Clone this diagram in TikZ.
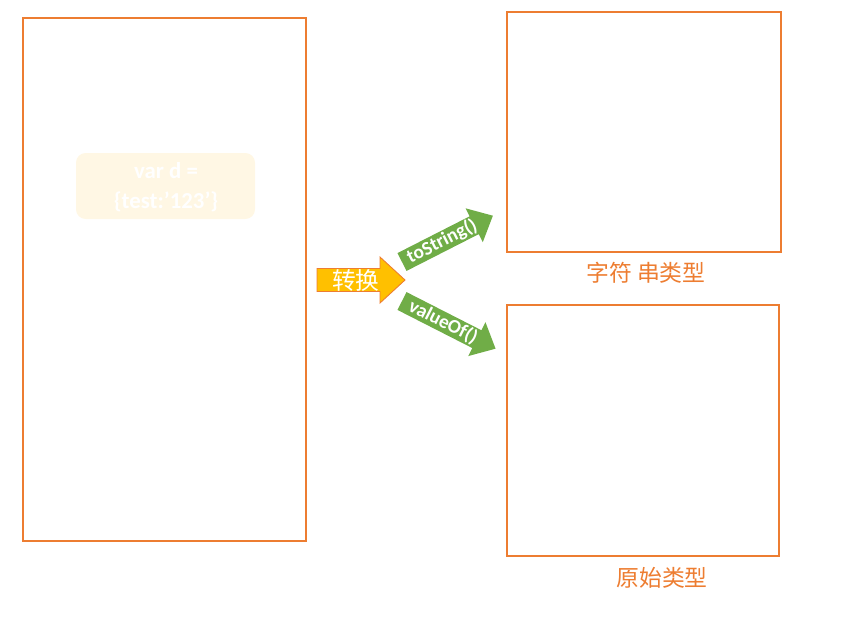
\documentclass[tikz,border=0pt]{standalone}
\usepackage{fontspec}
\setmainfont{Carlito}
\newfontfamily\cjk{Noto Sans CJK SC}
\definecolor{lineorange}{HTML}{ED7D31}
\definecolor{cream}{HTML}{FFF7E4}
\definecolor{gold}{HTML}{FFC000}
\definecolor{leafgreen}{HTML}{70AD47}
\tikzset{
  panel/.style={draw=lineorange,line width=0.6pt},            % outline boxes
  codebox/.style={fill=cream,rounded corners=5.5pt},
  typelabel/.style={text=lineorange,font=\cjk\fontsize{13}{15}\selectfont},
  convarr/.style={fill=gold,draw=lineorange,line width=0.5pt},
  methodarr/.style={fill=leafgreen},
  arrtext/.style={text=white,inner sep=0pt},
  methodtext/.style={arrtext,font=\bfseries\fontsize{11}{12}\selectfont},
  convtext/.style={arrtext,font=\cjk\fontsize{13.5}{15}\selectfont},
}
\newcommand{\blockarr}[9]{% start, angle, length, shaft half, head half, head length, kind, name, text
  \begin{scope}[shift={#1},rotate=#2]
    \path[#7arr] (0,-#4) -- ({#3-#6},-#4) -- ({#3-#6},-#5) -- (#3,0)
      -- ({#3-#6},#5) -- ({#3-#6},#4) -- (0,#4) -- cycle;
    \node[#7text,rotate=#2] (#8) at ({0.44*#3},0) {#9};
  \end{scope}
}

\begin{document}
\begin{tikzpicture}[x=0.02cm,y=-0.02cm]
  \useasboundingbox (0,0) rectangle (859,630);
  % left: the object
  \draw[panel] (23,18) rectangle (306,541);
  \fill[codebox] (76,153) rectangle (255,219);
  \node[arrtext,align=center,font=\bfseries\fontsize{13}{17}\selectfont] (obj) at (166,187)
    {var d =\\\{test:'123'\}};
  % right: the two results
  \draw[panel] (507,12) rectangle (781,252);
  \node[typelabel] (strlabel) at (646,273) {字符 串类型};
  \draw[panel] (507,305) rectangle (779,556);
  \node[typelabel] (primlabel) at (662,578) {原始类型};
  % conversion arrows
  \blockarr{(317,280)}{0}{88}{11.5}{23}{25}{conv}{conv}{转换}
  \blockarr{(402,262)}{27}{102}{10}{19}{21}{method}{tostr}{toString()}
  \blockarr{(402,301)}{-27}{105}{10}{19}{21}{method}{valof}{valueOf()}
\end{tikzpicture}
\end{document}
